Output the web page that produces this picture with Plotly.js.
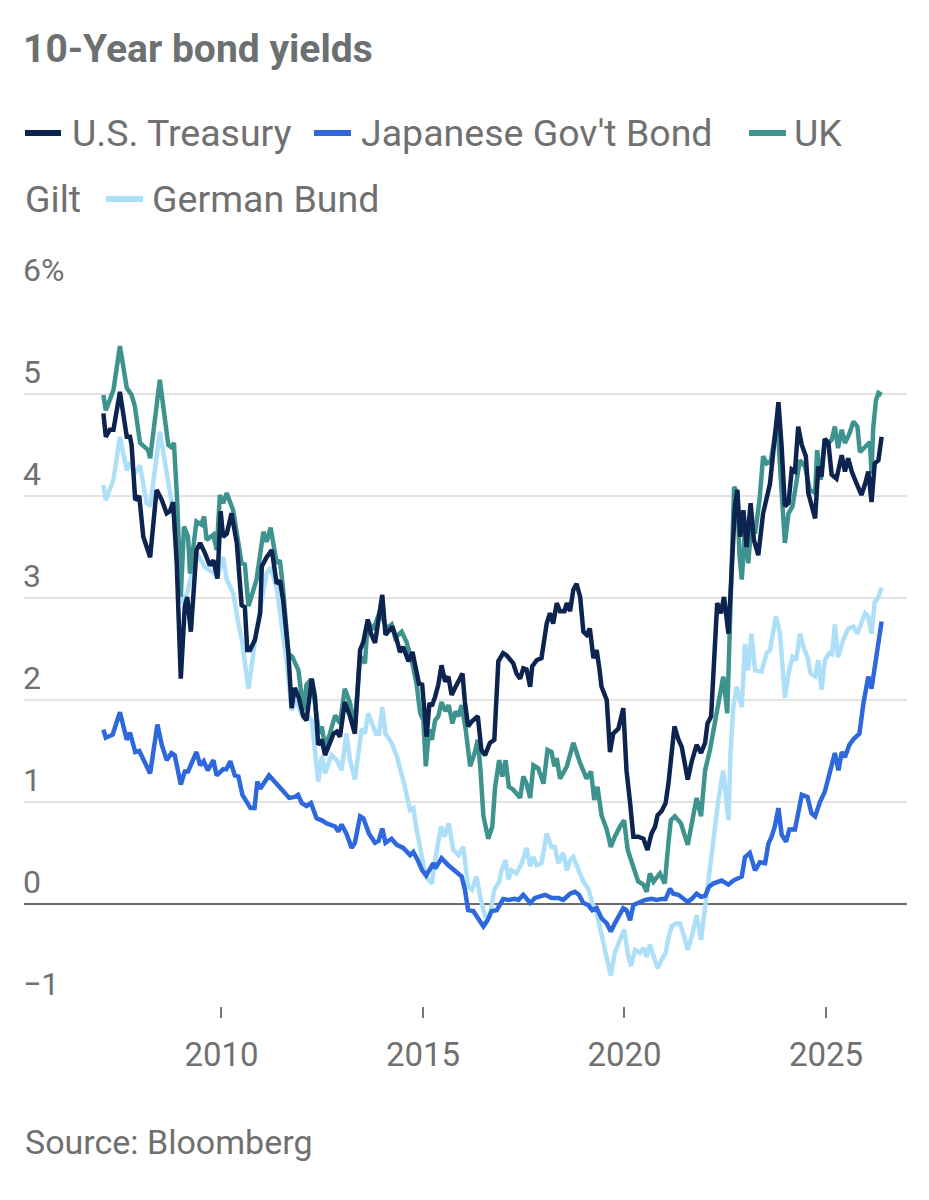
<!DOCTYPE html>
<html>
<head>
<meta charset="utf-8">
<script src="https://cdn.plot.ly/plotly-3.0.1.min.js"></script>
<style>
html,body{margin:0;padding:0;background:#fff;}
#chart{width:929px;height:1200px;}
</style>
</head>
<body>
<div id="chart"></div>
<script>
// ---------- DATA (decimal years, yield %) ----------
const usX = [2007.07,2007.13,2007.23,2007.32,2007.48,2007.65,2007.73,2007.77,2007.86,2007.96,2008.06,2008.23,2008.39,2008.52,2008.64,2008.72,2008.80,2008.89,2008.99,2009.09,2009.15,2009.24,2009.38,2009.47,2009.59,2009.71,2009.80,2009.90,2009.98,2010.04,2010.13,2010.25,2010.38,2010.50,2010.58,2010.64,2010.71,2010.83,2010.96,2011.00,2011.12,2011.25,2011.37,2011.45,2011.53,2011.66,2011.74,2011.82,2011.92,2012.03,2012.11,2012.24,2012.32,2012.40,2012.49,2012.57,2012.65,2012.78,2012.86,2012.94,2013.06,2013.19,2013.31,2013.44,2013.52,2013.63,2013.71,2013.81,2013.99,2014.07,2014.16,2014.24,2014.35,2014.43,2014.51,2014.64,2014.74,2014.82,2014.90,2014.98,2015.09,2015.16,2015.22,2015.30,2015.38,2015.46,2015.55,2015.63,2015.71,2015.81,2015.89,2015.98,2016.04,2016.12,2016.21,2016.36,2016.45,2016.54,2016.66,2016.77,2016.87,2016.99,2017.07,2017.16,2017.24,2017.32,2017.41,2017.49,2017.57,2017.66,2017.71,2017.82,2017.94,2018.07,2018.15,2018.23,2018.32,2018.40,2018.51,2018.57,2018.65,2018.73,2018.81,2018.90,2018.98,2019.06,2019.14,2019.23,2019.31,2019.38,2019.43,2019.56,2019.64,2019.72,2019.85,2019.97,2020.05,2020.14,2020.22,2020.34,2020.47,2020.57,2020.67,2020.76,2020.82,2020.92,2021.02,2021.09,2021.17,2021.24,2021.34,2021.42,2021.57,2021.67,2021.79,2021.90,2022.00,2022.06,2022.15,2022.20,2022.30,2022.39,2022.47,2022.58,2022.66,2022.74,2022.80,2022.87,2022.95,2023.03,2023.13,2023.21,2023.32,2023.44,2023.61,2023.73,2023.82,2023.90,2023.98,2024.07,2024.15,2024.23,2024.31,2024.40,2024.50,2024.56,2024.64,2024.73,2024.81,2024.89,2024.97,2025.06,2025.14,2025.26,2025.39,2025.47,2025.55,2025.64,2025.76,2025.88,2025.97,2026.05,2026.13,2026.21,2026.30,2026.38];
const usY = [4.81,4.58,4.65,4.65,5.02,4.58,4.58,4.50,3.96,4.00,3.60,3.40,4.06,3.96,3.83,3.85,3.94,3.34,2.21,2.92,3.01,2.67,3.47,3.54,3.44,3.32,3.37,3.19,3.85,3.60,3.63,3.83,3.54,2.93,2.91,2.49,2.49,2.59,2.85,3.31,3.40,3.47,3.14,3.17,2.98,2.46,1.92,2.12,2.02,1.84,1.80,2.21,2.03,1.56,1.61,1.46,1.54,1.67,1.69,1.64,1.98,1.84,1.67,2.49,2.57,2.79,2.65,2.56,3.03,2.64,2.68,2.72,2.59,2.47,2.52,2.38,2.47,2.33,2.16,2.15,1.64,1.97,1.94,2.03,2.15,2.34,2.18,2.23,2.05,2.13,2.20,2.26,1.98,1.74,1.79,1.84,1.51,1.46,1.58,1.61,2.38,2.46,2.44,2.39,2.36,2.26,2.21,2.31,2.30,2.13,2.33,2.39,2.41,2.75,2.85,2.75,2.95,2.87,2.87,2.95,2.87,3.08,3.14,3.01,2.67,2.64,2.70,2.41,2.49,2.30,2.13,2.00,1.49,1.67,1.72,1.92,1.31,0.99,0.66,0.66,0.64,0.53,0.69,0.76,0.87,0.91,0.99,1.18,1.54,1.74,1.61,1.54,1.22,1.40,1.56,1.48,1.58,1.77,1.84,2.29,2.95,2.85,3.01,2.65,3.31,3.90,4.06,3.60,3.86,3.50,3.93,3.57,3.42,3.83,4.12,4.61,4.92,4.48,3.90,3.93,4.26,4.24,4.68,4.50,4.39,4.03,3.90,3.78,4.29,4.19,4.56,4.52,4.21,4.17,4.40,4.24,4.37,4.24,4.12,4.01,4.12,4.24,3.94,4.32,4.35,4.58];

const jpX = [2007.07,2007.13,2007.30,2007.48,2007.65,2007.73,2007.86,2007.96,2008.23,2008.41,2008.52,2008.64,2008.76,2008.84,2008.99,2009.09,2009.17,2009.38,2009.47,2009.56,2009.66,2009.80,2009.88,2010.04,2010.12,2010.22,2010.33,2010.42,2010.52,2010.62,2010.72,2010.82,2010.89,2010.96,2011.18,2011.48,2011.68,2011.82,2011.90,2011.99,2012.11,2012.22,2012.36,2012.49,2012.61,2012.82,2012.90,2012.98,2013.10,2013.23,2013.31,2013.44,2013.52,2013.66,2013.81,2013.90,2013.99,2014.07,2014.22,2014.35,2014.51,2014.68,2014.76,2014.87,2014.98,2015.08,2015.15,2015.26,2015.31,2015.46,2015.63,2015.79,2015.96,2016.04,2016.12,2016.25,2016.37,2016.50,2016.60,2016.70,2016.83,2016.99,2017.12,2017.28,2017.37,2017.49,2017.66,2017.78,2018.03,2018.19,2018.36,2018.48,2018.65,2018.77,2018.87,2018.98,2019.10,2019.20,2019.31,2019.43,2019.56,2019.66,2019.76,2019.89,2019.97,2020.05,2020.14,2020.22,2020.34,2020.51,2020.67,2020.80,2020.92,2021.02,2021.13,2021.21,2021.34,2021.46,2021.57,2021.67,2021.79,2021.90,2022.00,2022.10,2022.20,2022.41,2022.58,2022.70,2022.91,2022.99,2023.11,2023.24,2023.36,2023.49,2023.57,2023.65,2023.73,2023.82,2023.90,2024.01,2024.09,2024.23,2024.31,2024.40,2024.54,2024.64,2024.73,2024.85,2024.97,2025.10,2025.22,2025.31,2025.39,2025.47,2025.58,2025.69,2025.83,2025.93,2026.05,2026.13,2026.21,2026.30,2026.38];
const jpY = [1.71,1.63,1.66,1.88,1.61,1.68,1.49,1.50,1.28,1.76,1.56,1.41,1.48,1.46,1.17,1.30,1.30,1.49,1.36,1.40,1.31,1.41,1.26,1.32,1.32,1.40,1.26,1.25,1.07,1.00,0.94,0.94,1.20,1.13,1.26,1.13,1.04,1.05,1.07,0.99,0.96,0.99,0.84,0.82,0.79,0.76,0.71,0.78,0.69,0.55,0.60,0.86,0.84,0.69,0.60,0.62,0.74,0.60,0.64,0.58,0.55,0.48,0.51,0.43,0.33,0.28,0.33,0.40,0.35,0.45,0.38,0.32,0.27,0.14,-0.06,-0.07,-0.14,-0.22,-0.16,-0.07,-0.06,0.05,0.04,0.05,0.04,0.09,0.01,0.06,0.09,0.06,0.06,0.04,0.10,0.12,0.09,0.01,-0.01,-0.06,-0.04,-0.14,-0.19,-0.27,-0.19,-0.09,-0.04,-0.06,-0.16,-0.01,0.01,0.04,0.05,0.04,0.05,0.05,0.15,0.10,0.09,0.05,0.02,0.05,0.10,0.07,0.08,0.17,0.20,0.23,0.19,0.23,0.27,0.46,0.50,0.33,0.41,0.40,0.59,0.66,0.76,0.94,0.68,0.61,0.73,0.73,0.89,1.07,1.05,0.89,0.86,1.00,1.10,1.31,1.48,1.31,1.49,1.44,1.56,1.62,1.67,1.97,2.23,2.11,2.33,2.52,2.77];

const ukX = [2007.07,2007.13,2007.32,2007.48,2007.65,2007.77,2007.85,2007.98,2008.18,2008.23,2008.47,2008.68,2008.75,2008.82,2008.90,2008.99,2009.07,2009.17,2009.22,2009.38,2009.50,2009.57,2009.63,2009.80,2009.88,2009.96,2010.04,2010.13,2010.29,2010.50,2010.58,2010.67,2010.87,2011.04,2011.12,2011.22,2011.37,2011.45,2011.53,2011.66,2011.76,2011.91,2012.03,2012.11,2012.22,2012.32,2012.42,2012.49,2012.57,2012.69,2012.82,2012.94,2013.06,2013.19,2013.31,2013.44,2013.56,2013.63,2013.77,2013.93,2014.10,2014.22,2014.31,2014.47,2014.59,2014.72,2014.84,2014.93,2015.01,2015.07,2015.15,2015.22,2015.30,2015.38,2015.46,2015.56,2015.64,2015.73,2015.81,2015.88,2015.96,2016.06,2016.17,2016.29,2016.36,2016.42,2016.50,2016.62,2016.72,2016.79,2016.89,2016.97,2017.05,2017.13,2017.24,2017.41,2017.49,2017.57,2017.66,2017.74,2017.86,2017.99,2018.09,2018.19,2018.26,2018.32,2018.40,2018.57,2018.73,2018.90,2019.06,2019.17,2019.25,2019.33,2019.43,2019.56,2019.66,2019.76,2019.89,2019.99,2020.08,2020.22,2020.34,2020.47,2020.55,2020.63,2020.72,2020.88,2021.00,2021.09,2021.15,2021.25,2021.40,2021.57,2021.67,2021.79,2021.90,2022.00,2022.12,2022.23,2022.33,2022.45,2022.55,2022.63,2022.72,2022.80,2022.85,2022.91,2022.99,2023.07,2023.15,2023.24,2023.35,2023.44,2023.53,2023.63,2023.71,2023.79,2023.87,2023.98,2024.07,2024.17,2024.26,2024.35,2024.48,2024.60,2024.73,2024.78,2024.87,2024.97,2025.06,2025.14,2025.22,2025.30,2025.39,2025.47,2025.58,2025.68,2025.78,2025.84,2025.97,2026.09,2026.13,2026.17,2026.24,2026.30,2026.38];
const ukY = [4.99,4.84,5.04,5.47,5.06,4.99,4.88,4.52,4.45,4.37,5.14,4.50,4.48,4.52,3.96,3.01,3.70,3.60,3.24,3.75,3.72,3.80,3.57,3.62,3.47,4.01,3.93,4.03,3.86,3.34,3.33,2.92,3.18,3.65,3.55,3.69,3.34,3.37,3.08,2.46,2.42,2.29,1.90,2.15,2.20,1.97,1.67,1.74,1.54,1.67,1.85,1.77,2.11,1.97,1.74,2.43,2.36,2.77,2.69,2.87,2.70,2.74,2.61,2.67,2.57,2.39,2.16,1.87,1.80,1.35,1.71,1.61,1.80,1.84,1.98,1.89,1.95,1.77,1.89,1.84,1.95,1.71,1.35,1.49,1.61,1.35,0.86,0.64,0.76,1.15,1.41,1.25,1.41,1.15,1.12,1.04,1.25,1.18,1.04,1.36,1.33,1.18,1.51,1.49,1.35,1.43,1.23,1.35,1.58,1.38,1.23,1.30,1.02,1.15,0.87,0.73,0.56,0.66,0.76,0.82,0.53,0.37,0.22,0.19,0.12,0.30,0.22,0.30,0.20,0.60,0.82,0.86,0.79,0.58,0.79,1.04,0.86,1.31,1.51,1.74,2.00,2.23,1.87,2.78,4.09,4.03,3.44,3.18,3.67,3.34,3.73,3.63,3.96,4.39,4.32,4.34,4.52,4.74,4.22,3.54,3.83,3.90,4.12,4.35,4.29,4.06,4.03,4.45,4.16,4.56,4.52,4.55,4.68,4.47,4.65,4.52,4.61,4.73,4.68,4.43,4.48,4.53,4.22,4.66,4.94,5.01,4.99];

const deX = [2007.07,2007.13,2007.32,2007.48,2007.65,2007.73,2007.85,2007.98,2008.14,2008.23,2008.47,2008.72,2008.82,2008.95,2009.02,2009.15,2009.38,2009.59,2009.80,2009.90,2010.04,2010.13,2010.29,2010.42,2010.50,2010.67,2010.87,2011.12,2011.22,2011.37,2011.62,2011.74,2011.85,2012.00,2012.15,2012.24,2012.40,2012.49,2012.57,2012.73,2012.86,2012.98,2013.10,2013.19,2013.31,2013.48,2013.56,2013.64,2013.73,2013.83,2013.91,2013.99,2014.07,2014.22,2014.35,2014.47,2014.55,2014.68,2014.76,2014.84,2014.95,2015.07,2015.22,2015.30,2015.45,2015.53,2015.64,2015.75,2015.88,2016.00,2016.12,2016.21,2016.33,2016.42,2016.54,2016.66,2016.77,2016.89,2016.95,2017.05,2017.12,2017.20,2017.32,2017.45,2017.57,2017.66,2017.74,2017.82,2017.94,2018.07,2018.19,2018.27,2018.36,2018.48,2018.57,2018.65,2018.73,2018.85,2018.98,2019.10,2019.20,2019.31,2019.43,2019.56,2019.66,2019.76,2019.89,2019.99,2020.10,2020.16,2020.26,2020.38,2020.47,2020.55,2020.63,2020.72,2020.82,2020.92,2021.02,2021.10,2021.17,2021.27,2021.38,2021.46,2021.57,2021.67,2021.79,2021.90,2021.96,2022.08,2022.20,2022.33,2022.45,2022.52,2022.58,2022.63,2022.70,2022.78,2022.91,2022.99,2023.07,2023.15,2023.24,2023.40,2023.53,2023.61,2023.68,2023.76,2023.86,2023.98,2024.07,2024.17,2024.26,2024.35,2024.44,2024.54,2024.62,2024.73,2024.81,2024.89,2024.97,2025.08,2025.15,2025.22,2025.30,2025.43,2025.55,2025.68,2025.78,2025.88,2025.97,2026.05,2026.13,2026.21,2026.30,2026.38];
const deY = [4.11,3.96,4.16,4.58,4.25,4.33,4.22,4.30,3.93,3.90,4.63,4.03,3.80,3.20,2.95,3.05,3.45,3.30,3.25,3.20,3.40,3.18,3.05,2.75,2.60,2.11,2.69,3.24,3.30,3.10,2.36,1.90,2.00,1.85,1.84,1.80,1.20,1.45,1.28,1.46,1.41,1.31,1.67,1.41,1.22,1.72,1.67,1.87,1.77,1.67,1.67,1.93,1.67,1.58,1.45,1.28,1.15,0.92,0.94,0.73,0.53,0.27,0.20,0.43,0.76,0.66,0.79,0.53,0.48,0.56,0.17,0.14,0.27,0.07,-0.12,-0.12,0.14,0.22,0.33,0.43,0.24,0.33,0.30,0.40,0.55,0.37,0.46,0.38,0.40,0.69,0.56,0.56,0.40,0.50,0.33,0.43,0.46,0.33,0.22,0.15,0.01,-0.09,-0.29,-0.52,-0.70,-0.48,-0.35,-0.25,-0.52,-0.61,-0.45,-0.48,-0.43,-0.52,-0.40,-0.52,-0.63,-0.55,-0.48,-0.32,-0.22,-0.19,-0.19,-0.29,-0.45,-0.32,-0.11,-0.35,-0.16,0.30,0.66,1.02,1.31,1.09,0.82,1.48,1.93,2.13,1.93,2.55,2.29,2.65,2.29,2.28,2.46,2.49,2.65,2.82,2.65,2.02,2.26,2.42,2.39,2.65,2.52,2.42,2.26,2.23,2.39,2.10,2.39,2.46,2.45,2.74,2.42,2.59,2.70,2.72,2.65,2.75,2.85,2.82,2.65,2.96,3.01,3.10];

const seriesNames = ["U.S. Treasury", "Japanese Gov't Bond", "UK Gilt", "German Bund"];
const yTickVals = [-1, 0, 1, 2, 3, 4, 5, 6];
const yTickText = ["\u22121", "0", "1", "2", "3", "4", "5", "6%"];
const xTickVals = [2010, 2015, 2020, 2025];
const xTickText = ["2010", "2015", "2020", "2025"];
const titleText = "10-Year bond yields";
const sourceText = "Source: Bloomberg";

// ---------- STYLE ----------
const W = 929, H = 1200;
const M = {l: 24, r: 22, t: 292, b: 194};
const PW = W - M.l - M.r, PH = H - M.t - M.b;
const px = x => (x - M.l) / PW;
const py = y => (H - M.b - y) / PH;
const FONT = "Roboto, 'Liberation Sans', sans-serif";
const TXT = "#707070";
const colors = {us: "#0d2350", jp: "#2d68dc", uk: "#3f938f", de: "#ade0f8"};
const LW = 4.5;

const traces = [
  {x: deX, y: deY, name: seriesNames[3], line: {color: colors.de, width: LW}},
  {x: ukX, y: ukY, name: seriesNames[2], line: {color: colors.uk, width: LW}},
  {x: jpX, y: jpY, name: seriesNames[1], line: {color: colors.jp, width: LW}},
  {x: usX, y: usY, name: seriesNames[0], line: {color: colors.us, width: LW}}
].map(t => Object.assign({type: "scatter", mode: "lines", hoverinfo: "skip"}, t));

// custom wrapped legend
const LFS = 37.5;
const legendItems = [
  {sw: [25, 61, 133], color: colors.us, texts: [[70, 133, "U.S. Treasury"]]},
  {sw: [314, 351, 133], color: colors.jp, texts: [[359, 133, "Japanese Gov't Bond"]]},
  {sw: [749, 786, 133], color: colors.uk, texts: [[792, 133, "UK"], [23, 199, "Gilt"]]},
  {sw: [106, 143, 199], color: colors.de, texts: [[150, 199, "German Bund"]]}
];
const shapes = [], annotations = [];
legendItems.forEach(it => {
  shapes.push({type: "line", xref: "paper", yref: "paper",
    x0: px(it.sw[0]), x1: px(it.sw[1]), y0: py(it.sw[2]), y1: py(it.sw[2]),
    line: {color: it.color, width: 6}});
  it.texts.forEach(t => annotations.push({xref: "paper", yref: "paper",
    x: px(t[0]), y: py(t[1]), xanchor: "left", yanchor: "middle", showarrow: false,
    text: t[2], font: {family: FONT, size: LFS, color: TXT}}));
});
annotations.push({xref: "paper", yref: "paper", x: px(23), y: py(1142),
  xanchor: "left", yanchor: "middle", showarrow: false, text: sourceText,
  font: {family: FONT, size: 34, color: TXT}});

const layout = {
  width: W, height: H,
  margin: M,
  paper_bgcolor: "#fff", plot_bgcolor: "#fff",
  showlegend: false,
  title: {text: titleText, xref: "container", x: 23 / W, xanchor: "left", y: 1 - 48 / H, yanchor: "middle",
    font: {family: FONT, size: 39, color: "#6d7070", weight: 700}},
  xaxis: {range: [2005.1, 2027.01], tickvals: xTickVals, ticktext: xTickText,
    showgrid: false, zeroline: false, showline: false,
    ticks: "outside", ticklen: 11, tickwidth: 2, tickcolor: "#777",
    ticklabelstandoff: 8,
    tickfont: {family: FONT, size: 33, color: TXT}},
  yaxis: {range: [-1, 6], tickvals: yTickVals, ticktext: yTickText,
    showgrid: true, gridcolor: "#e3e3e3", gridwidth: 2,
    zeroline: true, zerolinecolor: "#6a6a6a", zerolinewidth: 2,
    ticks: "", showline: false,
    ticklabelposition: "inside top", ticklabeloverflow: "allow",
    ticklabelstandoff: -4,
    tickfont: {family: FONT, size: 32, color: TXT}},
  shapes: shapes,
  annotations: annotations
};
Plotly.newPlot("chart", traces, layout, {staticPlot: true, displayModeBar: false});
</script>
</body>
</html>
